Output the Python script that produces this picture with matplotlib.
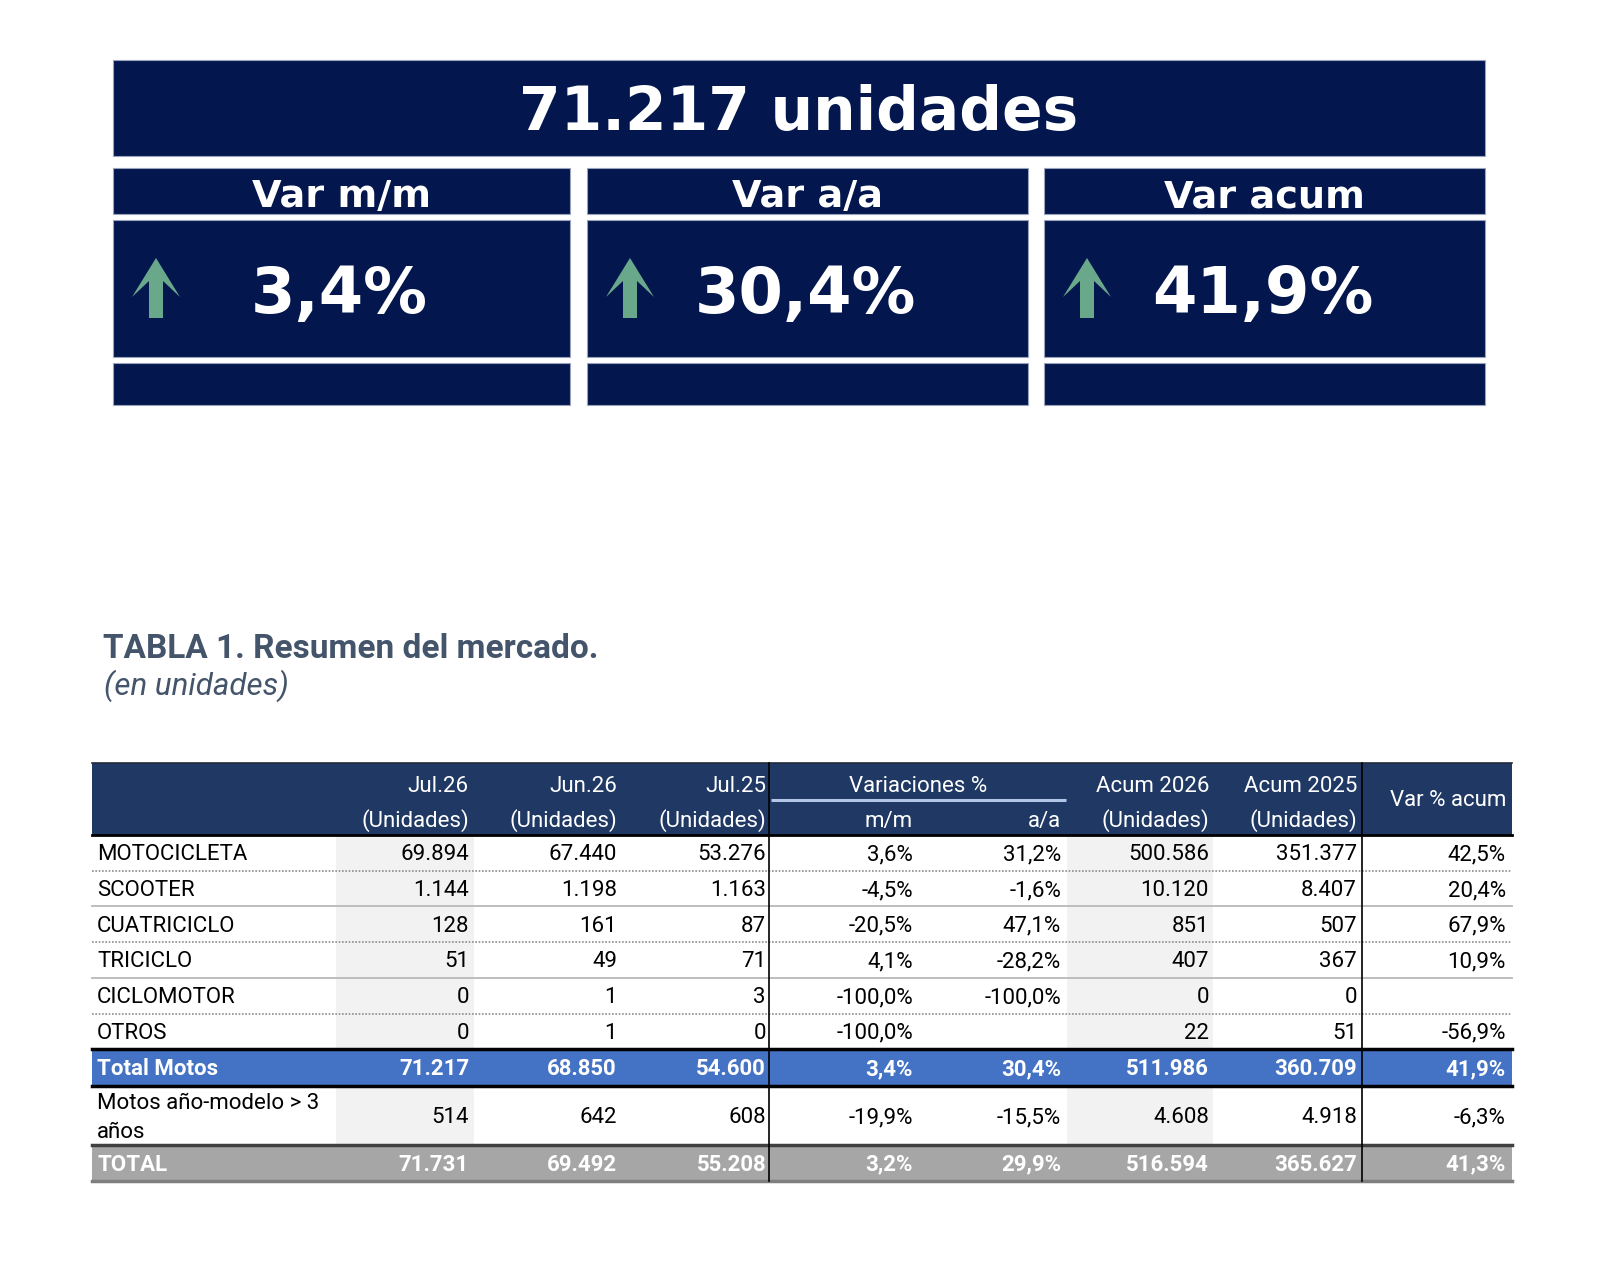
"""Resumen del mercado de motos - KPI banner + tabla"""

import matplotlib.pyplot as plt
from matplotlib.patches import Rectangle, Polygon

# ---- data ----
total_units = 71217
kpi_titles = ['Var m/m', 'Var a/a', 'Var acum']
kpi_values = [3.4, 30.4, 41.9]

row_labels = ['MOTOCICLETA', 'SCOOTER', 'CUATRICICLO', 'TRICICLO', 'CICLOMOTOR',
              'OTROS', 'Total Motos', 'Motos año-modelo > 3\naños', 'TOTAL']
jul26 = [69894, 1144, 128, 51, 0, 0, 71217, 514, 71731]
jun26 = [67440, 1198, 161, 49, 1, 1, 68850, 642, 69492]
jul25 = [53276, 1163, 87, 71, 3, 0, 54600, 608, 55208]
var_mm = [3.6, -4.5, -20.5, 4.1, -100.0, -100.0, 3.4, -19.9, 3.2]
var_aa = [31.2, -1.6, 47.1, -28.2, -100.0, None, 30.4, -15.5, 29.9]
acum26 = [500586, 10120, 851, 407, 0, 22, 511986, 4608, 516594]
acum25 = [351377, 8407, 507, 367, 0, 51, 360709, 4918, 365627]
var_acum = [42.5, 20.4, 67.9, 10.9, None, -56.9, 41.9, -6.3, 41.3]

head_1 = ['Jul.26', 'Jun.26', 'Jul.25', '', '', 'Acum 2026', 'Acum 2025', '']
head_2 = ['(Unidades)', '(Unidades)', '(Unidades)', 'm/m', 'a/a',
          '(Unidades)', '(Unidades)', '']
row_kind = ['n'] * 6 + ['total', 'n', 'grand']
sep_style = ['dot', 'solid', 'dot', 'solid', 'dot']


def fmt_units(v):
    return f'{v:,}'.replace(',', '.')


def fmt_pct(v):
    return '' if v is None else f'{v:.1f}%'.replace('.', ',')


NAVY = '#03174e'
HEAD = '#1f3864'
BLUE = '#4472c4'
GREY = '#a6a6a6'
GREEN = '#6aa88c'
SLATE = '#44546a'

W, H = 1600, 1284
fig = plt.figure(figsize=(16, 12.84), dpi=100)
ax = fig.add_axes([0, 0, 1, 1])
ax.set_xlim(0, W)
ax.set_ylim(H, 0)
ax.axis('off')

# ---- KPI banner ----
ax.add_patch(Rectangle((113, 60), 1372, 96, fc=NAVY, ec='#9aa3bd', lw=0.8))
ax.text(799, 130, f'{fmt_units(total_units)} unidades', ha='center', va='baseline',
        fontsize=43, fontweight='bold', family='DejaVu Sans', color='white')

boxes = [(113, 570), (587, 1028), (1044, 1485)]
for (x0, x1), title, val in zip(boxes, kpi_titles, kpi_values):
    for y0, y1 in [(168, 214), (220, 357), (363, 405)]:
        ax.add_patch(Rectangle((x0, y0), x1 - x0, y1 - y0, fc=NAVY,
                               ec='#9aa3bd', lw=0.8))
    cx = (x0 + x1) / 2
    ax.text(cx, 207, title, ha='center', va='baseline', fontsize=27.5,
            fontweight='bold', family='DejaVu Sans', color='white')
    ax.text(cx - 2, 313, fmt_pct(val), ha='center', va='baseline', fontsize=46,
            fontweight='bold', family='DejaVu Sans', color='white')
    ax_ = x0 + 43
    pts = [(ax_, 258), (ax_ + 24, 297), (ax_ + 7, 281), (ax_ + 7, 318),
           (ax_ - 7, 318), (ax_ - 7, 281), (ax_ - 24, 297)]
    ax.add_patch(Polygon(pts, closed=True, fc=GREEN, ec='none'))

# ---- title ----
ax.text(103, 658, 'TABLA 1. Resumen del mercado.', ha='left', va='baseline',
        fontsize=24, fontweight='bold', family='Roboto', color=SLATE)
ax.text(104, 695, '(en unidades)', ha='left', va='baseline', fontsize=22.5,
        style='italic', family='Roboto', color=SLATE)

# ---- table ----
TX0, TX1 = 92, 1512
TOP = 763
HEAD_H = 72
row_h = [35.7] * 6 + [37, 59, 36]
col_right = [469, 617, 766, 913, 1061, 1209, 1357, 1506]
shade_cols = [(336, 474), (1067, 1213)]
vlines = [769, 1362]
FS = 16

tops = [TOP + HEAD_H]
for h in row_h:
    tops.append(tops[-1] + h)
BOTTOM = tops[-1]

# header
ax.add_patch(Rectangle((TX0, TOP), TX1 - TX0, HEAD_H, fc=HEAD, ec='none'))
for xr, t1, t2 in zip(col_right, head_1, head_2):
    if t1:
        ax.text(xr, 792, t1, ha='right', va='baseline', fontsize=FS,
                family='Roboto', color='white')
    if t2:
        ax.text(xr, 827, t2, ha='right', va='baseline', fontsize=FS,
                family='Roboto', color='white')
ax.text((vlines[0] + 1067) / 2, 792, 'Variaciones %', ha='center', va='baseline',
        fontsize=FS, family='Roboto', color='white')
ax.plot([vlines[0] + 2, 1066], [800, 800], color='#b4c6e7', lw=2.2,
        solid_capstyle='butt')
ax.text(col_right[-1], 806, 'Var % acum', ha='right', va='baseline', fontsize=FS,
        family='Roboto', color='white')

# body
columns = [jul26, jun26, jul25, var_mm, var_aa, acum26, acum25, var_acum]
fmts = [fmt_units] * 3 + [fmt_pct] * 2 + [fmt_units] * 2 + [fmt_pct]
for i, label in enumerate(row_labels):
    y0, y1 = tops[i], tops[i + 1]
    yc = (y0 + y1) / 2
    kind = row_kind[i]
    if kind == 'total':
        ax.add_patch(Rectangle((TX0, y0), TX1 - TX0, y1 - y0, fc=BLUE, ec='none'))
    elif kind == 'grand':
        ax.add_patch(Rectangle((TX0, y0), TX1 - TX0, y1 - y0, fc=GREY, ec='none'))
    else:
        for sx0, sx1 in shade_cols:
            ax.add_patch(Rectangle((sx0, y0), sx1 - sx0, y1 - y0, fc='#f2f2f2',
                                   ec='none'))
    color = 'black' if kind == 'n' else 'white'
    weight = 'normal' if kind == 'n' else 'bold'
    lines = label.split('\n')
    first = yc + 7.5 - 14.5 * (len(lines) - 1)
    for k, line in enumerate(lines):
        ax.text(97, first + 29 * k, line, ha='left', va='baseline', fontsize=FS,
                family='Roboto', color=color, fontweight=weight)
    for xr, col, f in zip(col_right, columns, fmts):
        ax.text(xr, yc + 7.5, f(col[i]), ha='right', va='baseline', fontsize=FS,
                family='Roboto', color=color, fontweight=weight)

# row separators
for i, st in enumerate(sep_style):
    y = tops[i + 1]
    if st == 'dot':
        ax.plot([TX0, TX1], [y, y], color='#8c8c8c', lw=1.2, ls=(0, (1, 1)))
    else:
        ax.plot([TX0, TX1], [y, y], color='#bdbdbd', lw=1.4)

ax.plot([TX0, TX1], [TOP, TOP], color='#222a3a', lw=1.2)
ax.plot([TX0, TX1], [tops[0], tops[0]], color='black', lw=2)
ax.plot([TX0, TX1], [tops[6], tops[6]], color='black', lw=2.5)
ax.plot([TX0, TX1], [tops[7], tops[7]], color='black', lw=2.5)
ax.plot([TX0, TX1], [tops[8], tops[8]], color='#404040', lw=2.5)
ax.plot([TX0, TX1], [BOTTOM, BOTTOM], color='#7f7f7f', lw=2.5)
for xv in vlines:
    ax.plot([xv, xv], [TOP, BOTTOM], color='black', lw=1.2)

fig.savefig('out.png', dpi=100, facecolor='white')
